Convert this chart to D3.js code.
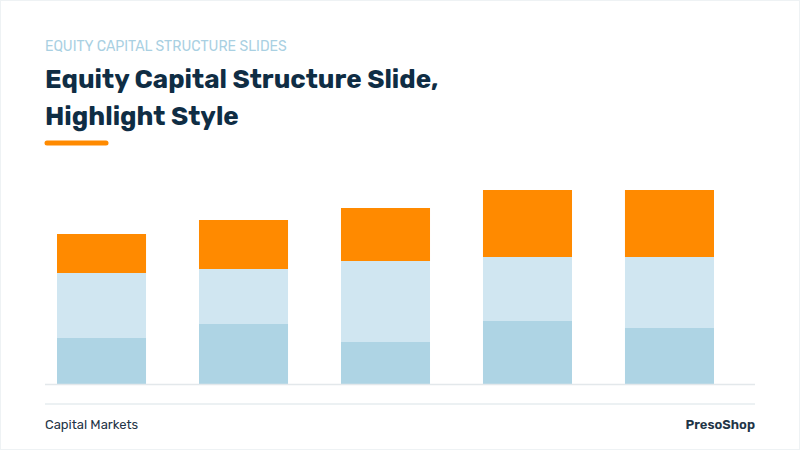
<!DOCTYPE html>
<html><head><meta charset="utf-8">
<script src="https://cdn.jsdelivr.net/npm/d3@7"></script>
<style>body{margin:0;background:#fff}svg{display:block}</style>
</head><body>
<svg id="chart" width="800" height="450"></svg>
<script>
const categories = ["A", "B", "C", "D", "E"];
const base   = [46, 60, 42, 63, 56];
const middle = [65, 55, 81, 64, 71];
const top3   = [39, 49, 53, 67, 67];
const seriesKeys = ["base", "middle", "top"];
const colors = ["#aed4e4", "#d0e6f1", "#ff8a00"];

const svg = d3.select("#chart"),
      margin = {top: 170, right: 45, bottom: 66, left: 45},
      width  = +svg.attr("width") - margin.left - margin.right,
      height = +svg.attr("height") - margin.top - margin.bottom;

svg.append("rect").attr("x", 0.5).attr("y", 0.5).attr("width", 799).attr("height", 449)
  .attr("fill", "#fff").attr("stroke", "#eef2f4");

const font = "Rubik, Inter, 'Noto Sans', sans-serif";
svg.append("text").attr("x", 45).attr("y", 51).style("font-family", font)
  .style("font-size", "14px").attr("fill", "#a9d0e2").text("EQUITY CAPITAL STRUCTURE SLIDES");
svg.append("text").attr("x", 45).attr("y", 88).style("font-family", font)
  .style("font-size", "26px").style("font-weight", "bold").attr("fill", "#0f2d44")
  .text("Equity Capital Structure Slide,");
svg.append("text").attr("x", 45).attr("y", 125).style("font-family", font)
  .style("font-size", "26px").style("font-weight", "bold").attr("fill", "#0f2d44")
  .text("Highlight Style");
svg.append("line").attr("x1", 47).attr("x2", 106).attr("y1", 143).attr("y2", 143)
  .attr("stroke", "#ff8a00").attr("stroke-width", 5).attr("stroke-linecap", "round");

const data = categories.map((c, i) => ({cat: c, base: base[i], middle: middle[i], top: top3[i]}));
const stack = d3.stack().keys(seriesKeys)(data);

const x = d3.scaleBand().domain(categories).range([12, 669]).paddingInner(0.373).paddingOuter(0);
const y = d3.scaleLinear().domain([0, 214]).range([height, 0]);

const g = svg.append("g").attr("transform", `translate(${margin.left},${margin.top})`);

g.selectAll(".layer").data(stack).enter().append("g")
  .attr("fill", (d, i) => colors[i])
  .selectAll("rect").data(d => d).enter().append("rect")
  .attr("x", d => x(d.data.cat))
  .attr("y", d => y(d[1]))
  .attr("width", x.bandwidth())
  .attr("height", d => y(d[0]) - y(d[1]));

g.append("line").attr("x1", 0).attr("x2", width).attr("y1", height + 0.5).attr("y2", height + 0.5)
  .attr("stroke", "#e3e8eb").attr("stroke-width", 1.5);

svg.append("line").attr("x1", 45).attr("x2", 755).attr("y1", 404).attr("y2", 404)
  .attr("stroke", "#e6ecef").attr("stroke-width", 1.5);
svg.append("text").attr("x", 45).attr("y", 429).style("font-family", font)
  .style("font-size", "13px").attr("fill", "#1f3547").text("Capital Markets");
svg.append("text").attr("x", 755).attr("y", 429).attr("text-anchor", "end").style("font-family", font)
  .style("font-size", "13px").style("font-weight", "600").attr("fill", "#1f3547").text("PresoShop");
</script>
</body></html>
